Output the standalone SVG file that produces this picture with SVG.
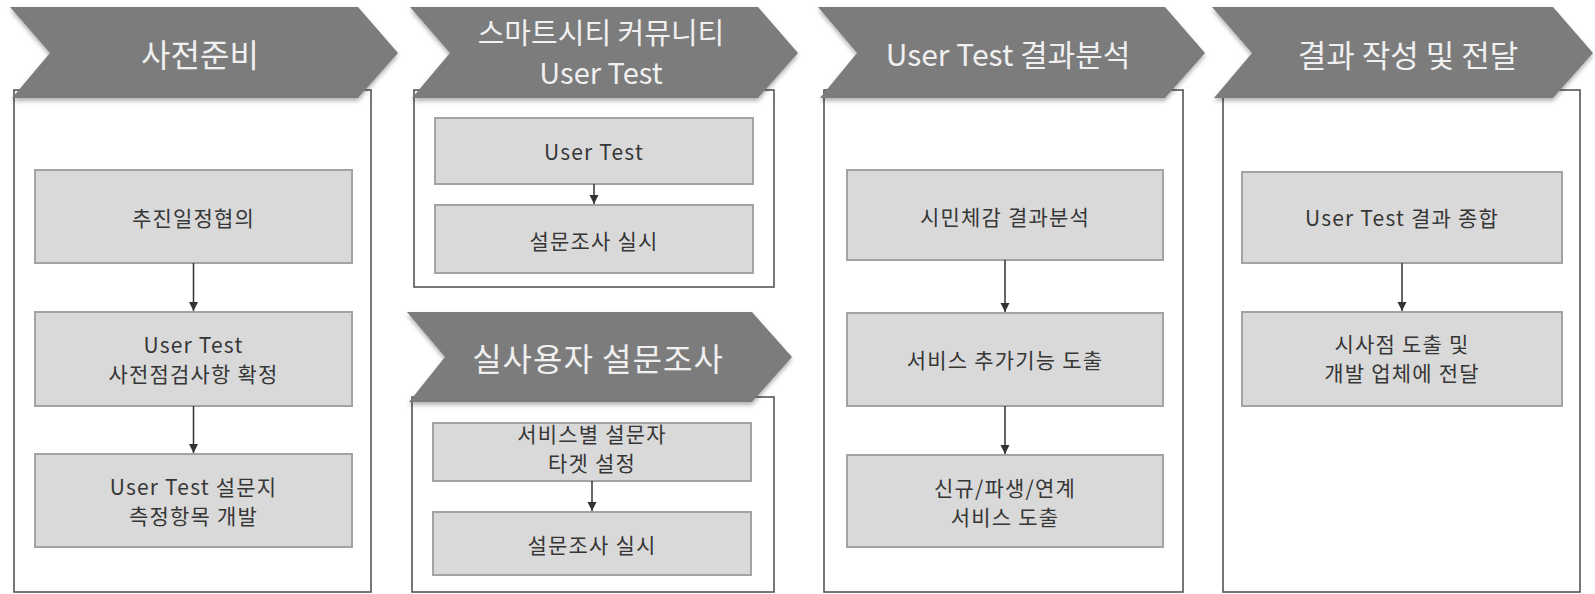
<svg xmlns="http://www.w3.org/2000/svg" width="1595" height="594" viewBox="0 0 1595 594">
  <defs>
    <style>
      .frame { fill: #ffffff; stroke: #555555; stroke-width: 1.6; }
      .chev { fill: #7b7b7b; filter: url(#soft); }
      .title { fill: #f0f0f0; font-family: "Noto Sans CJK KR", "Noto Sans", sans-serif; text-anchor: middle; dominant-baseline: central; }
      .box { fill: #d9d9d9; stroke: #a3a3a3; stroke-width: 2; }
      .label { fill: #363636; font-family: "Noto Sans CJK KR", "Noto Sans", sans-serif; font-size: 21px; text-anchor: middle; dominant-baseline: central; letter-spacing: 1.2px; }
      .flow { stroke: #333333; stroke-width: 1.5; fill: none; marker-end: url(#head); }
    </style>
    <filter id="soft" x="-5%" y="-10%" width="110%" height="130%">
      <feDropShadow dx="0" dy="3" stdDeviation="2" flood-color="#000000" flood-opacity="0.3"/>
    </filter>
    <marker id="head" markerWidth="10" markerHeight="10" refX="9" refY="5" orient="auto" markerUnits="userSpaceOnUse">
      <path d="M0,0.5 L9,5 L0,9.5 Z" fill="#333333"/>
    </marker>
  </defs>

  <!-- Stage 1: preparation -->
  <g id="stage-prep">
    <rect class="frame" x="14" y="90" width="357" height="502"/>
    <polygon class="chev" points="10,7 358,7 398,53 358,98 12,98 50,53"/>
    <text class="title" x="200" y="53" font-size="32">사전준비</text>
    <g id="prep-schedule">
      <rect class="box" x="35" y="170" width="317" height="93"/>
      <text class="label" x="193.5" y="217">추진일정협의</text>
    </g>
    <g id="prep-checklist">
      <rect class="box" x="35" y="312" width="317" height="94"/>
      <text class="label" x="193.5" y="344">User Test</text>
      <text class="label" x="193.5" y="373">사전점검사항 확정</text>
    </g>
    <g id="prep-survey">
      <rect class="box" x="35" y="454" width="317" height="93"/>
      <text class="label" x="193.5" y="486">User Test 설문지</text>
      <text class="label" x="193.5" y="515">측정항목 개발</text>
    </g>
  </g>

  <!-- Stage 2a: smart city community user test -->
  <g id="stage-community">
    <rect class="frame" x="414" y="90" width="360" height="197"/>
    <polygon class="chev" points="410,7 758,7 798,53 758,98 412,98 450,53"/>
    <text class="title" x="601" y="31" font-size="29">스마트시티 커뮤니티</text>
    <text class="title" x="601" y="71" font-size="29">User Test</text>
    <g id="community-test">
      <rect class="box" x="435" y="118" width="318" height="66"/>
      <text class="label" x="594" y="151">User Test</text>
    </g>
    <g id="community-survey">
      <rect class="box" x="435" y="205" width="318" height="68"/>
      <text class="label" x="594" y="240">설문조사 실시</text>
    </g>
  </g>

  <!-- Stage 2b: real-user survey -->
  <g id="stage-realuser">
    <rect class="frame" x="412" y="397" width="362" height="195"/>
    <polygon class="chev" points="407,312 752,312 792,357 752,402 409,402 445,357"/>
    <text class="title" x="598" y="357" font-size="32" letter-spacing="1">실사용자 설문조사</text>
    <g id="realuser-target">
      <rect class="box" x="433" y="423" width="318" height="58"/>
      <text class="label" x="592" y="433">서비스별 설문자</text>
      <text class="label" x="592" y="462">타겟 설정</text>
    </g>
    <g id="realuser-survey">
      <rect class="box" x="433" y="512" width="318" height="63"/>
      <text class="label" x="592" y="544">설문조사 실시</text>
    </g>
  </g>

  <!-- Stage 3: user test result analysis -->
  <g id="stage-analysis">
    <rect class="frame" x="824" y="90" width="359" height="502"/>
    <polygon class="chev" points="818,7 1165,7 1205,53 1165,98 820,98 857,53"/>
    <text class="title" x="1008" y="53" font-size="30">User Test 결과분석</text>
    <g id="analysis-citizen">
      <rect class="box" x="847" y="170" width="316" height="90"/>
      <text class="label" x="1005" y="216">시민체감 결과분석</text>
    </g>
    <g id="analysis-features">
      <rect class="box" x="847" y="313" width="316" height="93"/>
      <text class="label" x="1005" y="359">서비스 추가기능 도출</text>
    </g>
    <g id="analysis-services">
      <rect class="box" x="847" y="455" width="316" height="92"/>
      <text class="label" x="1005" y="487">신규/파생/연계</text>
      <text class="label" x="1005" y="516">서비스 도출</text>
    </g>
  </g>

  <!-- Stage 4: write up and deliver results -->
  <g id="stage-report">
    <rect class="frame" x="1223" y="90" width="357" height="502"/>
    <polygon class="chev" points="1212,7 1553,7 1593,53 1553,98 1214,98 1252,53"/>
    <text class="title" x="1408" y="53" font-size="31">결과 작성 및 전달</text>
    <g id="report-summary">
      <rect class="box" x="1242" y="172" width="320" height="91"/>
      <text class="label" x="1402" y="217">User Test 결과 종합</text>
    </g>
    <g id="report-deliver">
      <rect class="box" x="1242" y="312" width="320" height="94"/>
      <text class="label" x="1402" y="343">시사점 도출 및</text>
      <text class="label" x="1402" y="372">개발 업체에 전달</text>
    </g>
  </g>

  <!-- Connectors -->
  <g id="connectors">
    <line class="flow" x1="193.5" y1="263" x2="193.5" y2="311"/>
    <line class="flow" x1="193.5" y1="406" x2="193.5" y2="453"/>
    <line class="flow" x1="594" y1="184" x2="594" y2="204"/>
    <line class="flow" x1="592" y1="481" x2="592" y2="511"/>
    <line class="flow" x1="1005" y1="260" x2="1005" y2="312"/>
    <line class="flow" x1="1005" y1="406" x2="1005" y2="454"/>
    <line class="flow" x1="1402" y1="263" x2="1402" y2="311"/>
  </g>
</svg>
